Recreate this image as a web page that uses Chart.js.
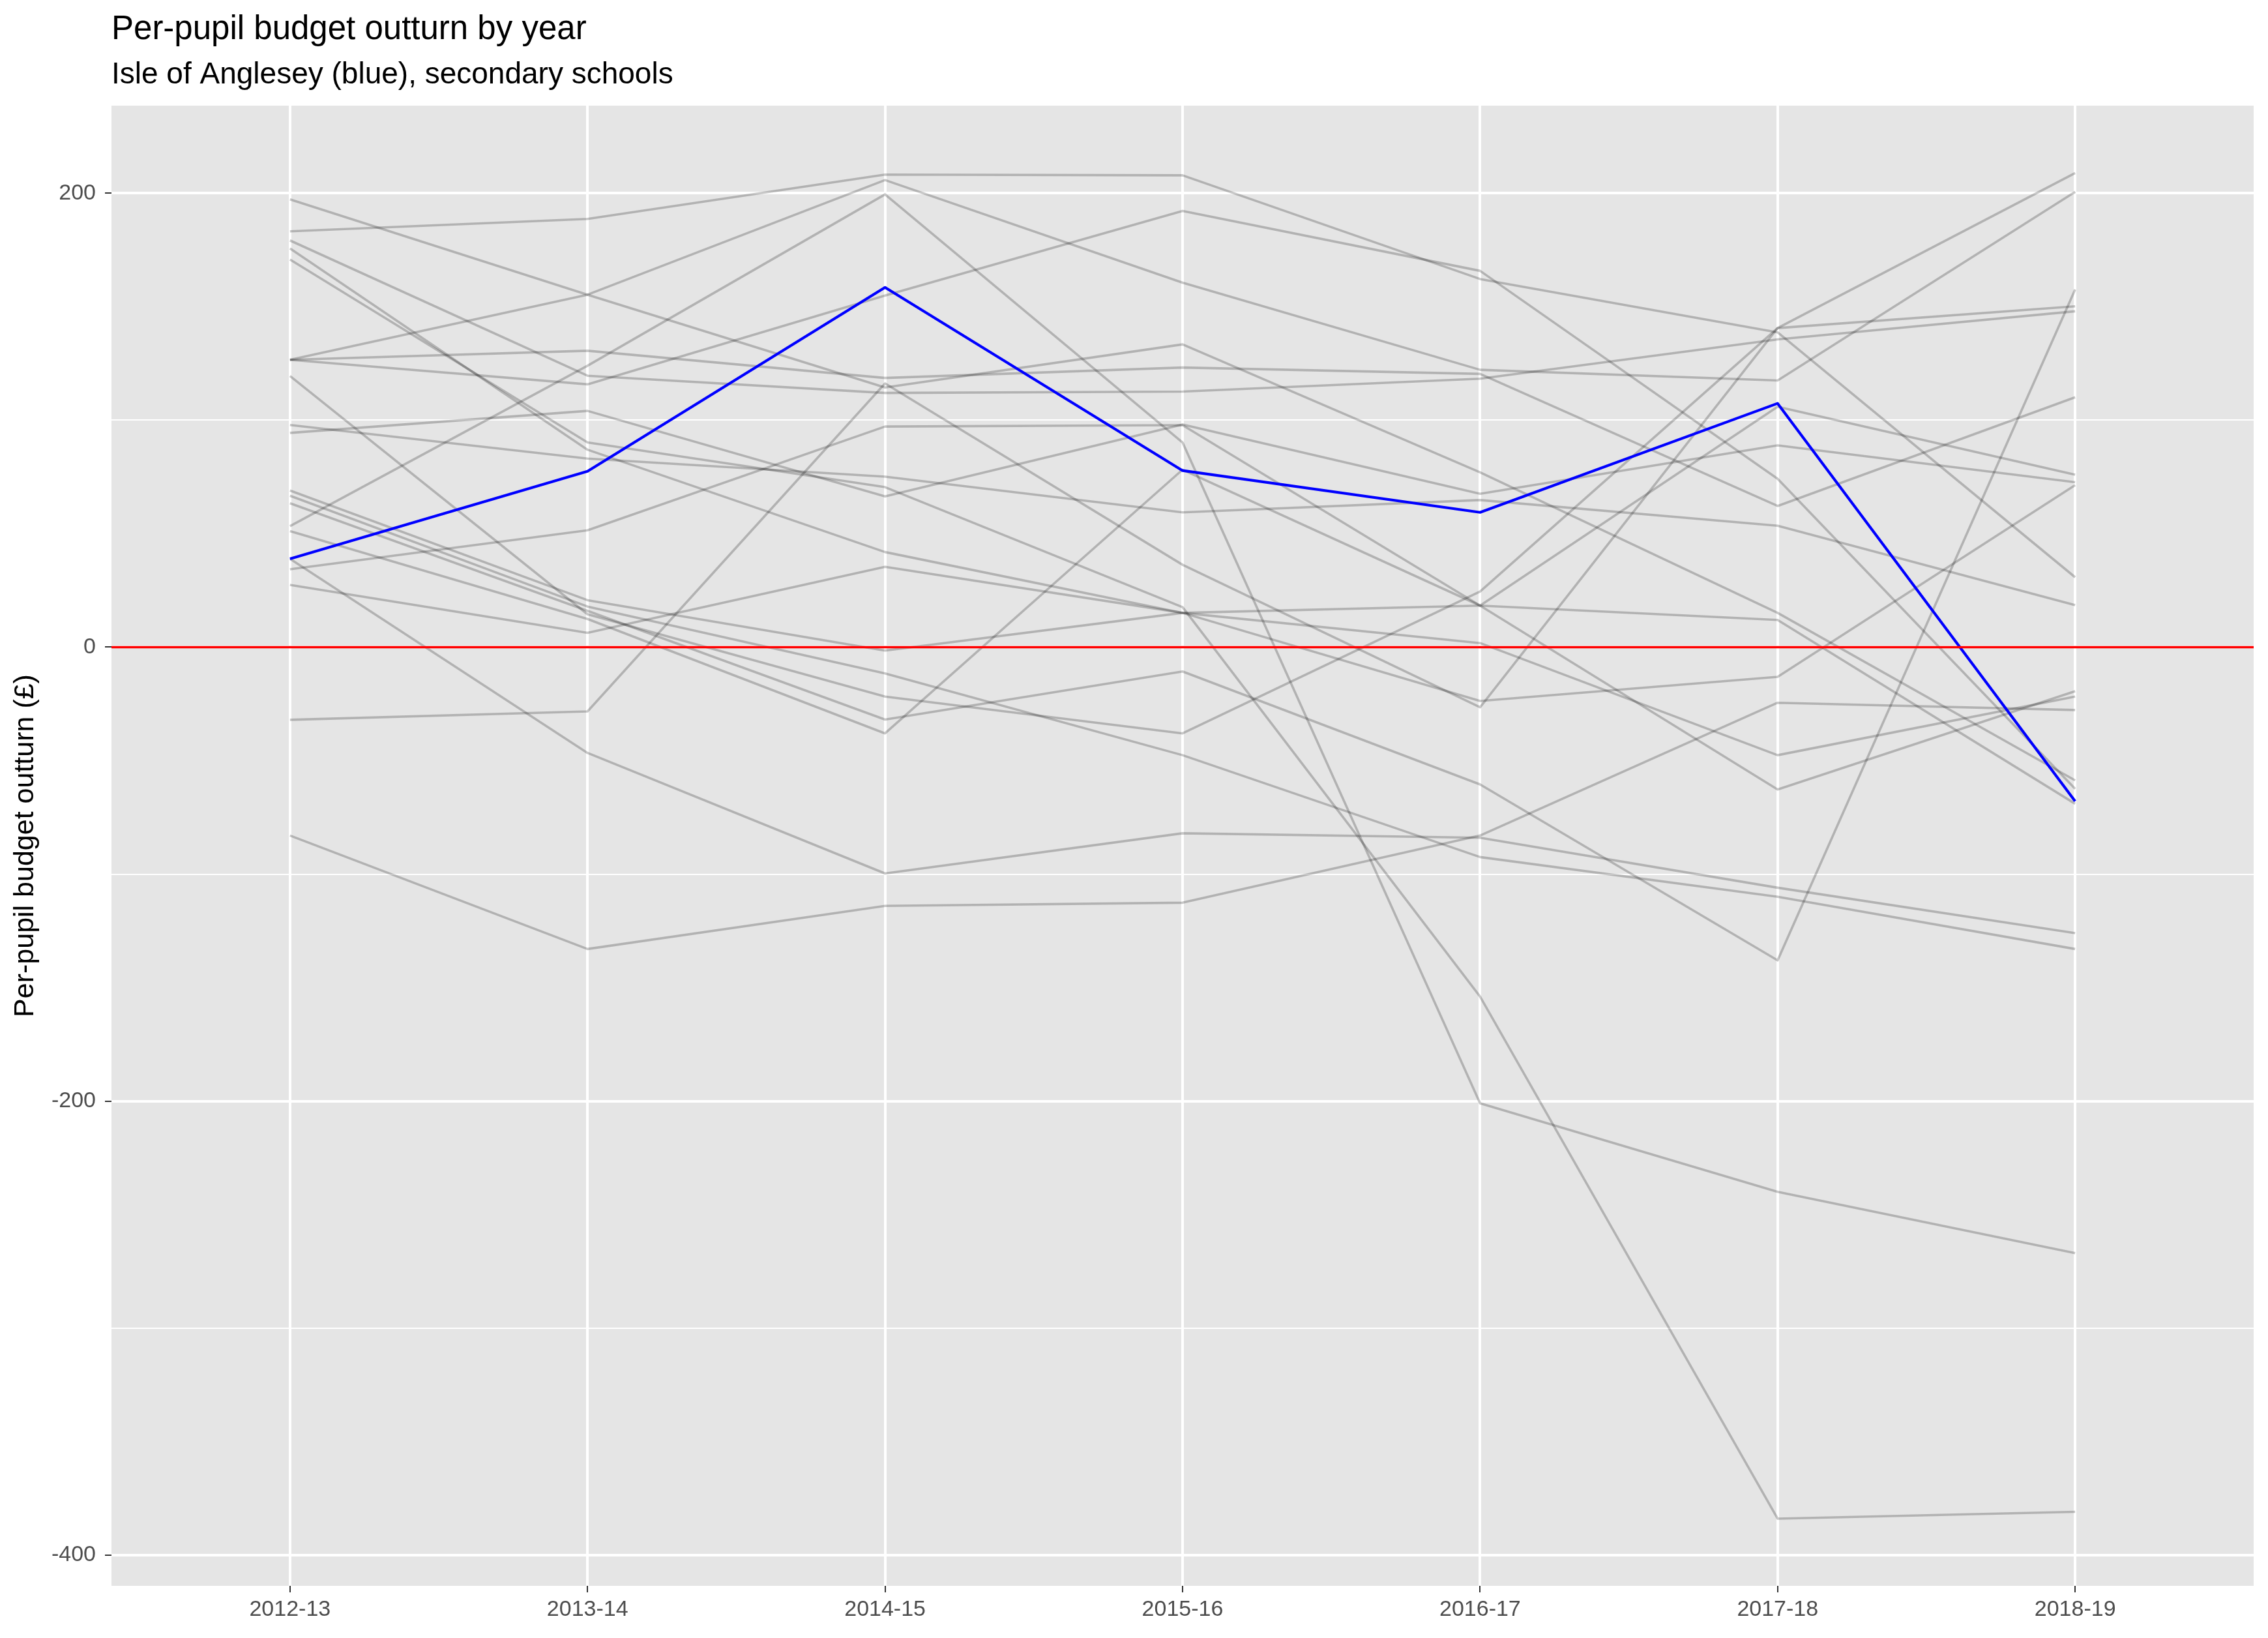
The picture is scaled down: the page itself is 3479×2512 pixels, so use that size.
<!DOCTYPE html>
<html>
<head>
<meta charset="utf-8">
<script src="https://cdn.jsdelivr.net/npm/chart.js@4.4.1/dist/chart.umd.min.js"></script>
<style>
  html, body { margin: 0; padding: 0; background: #ffffff; }
  canvas { display: block; }
</style>
</head>
<body>
<canvas id="c" width="3479" height="2512" style="width:3479px;height:2512px"></canvas>
<script>
// ---------------- DATA ----------------
const YEARS = ['2012-13', '2013-14', '2014-15', '2015-16', '2016-17', '2017-18', '2018-19'];

// Isle of Anglesey (highlighted)
const ANGLESEY = [38.9, 77.5, 158.5, 77.8, 59.4, 107.4, -67.9];

// Other local authorities (grey)
const LA_01 = [197.3, 155.3, 114.4, 133.4, 77.0, 15.1, -58.7];
const LA_02 = [183.2, 188.7, 208.2, 207.9, 162.2, 138.7, 30.8];
const LA_03 = [179.2, 119.6, 112.0, 112.6, 118.3, 135.6, 148.0];
const LA_04 = [175.7, 87.0, 41.9, 15.1, 1.8, -47.6, -21.8];
const LA_05 = [170.8, 90.2, 70.5, 17.6, -154.0, -384.0, -381.0];
const LA_06 = [126.6, 155.3, 205.8, 160.6, 122.2, 117.5, 200.6];
const LA_07 = [126.6, 130.6, 118.6, 123.2, 120.4, 62.2, 110.1];
const LA_08 = [126.6, 115.8, 154.9, 192.2, 165.8, 74.2, -62.4];
const LA_09 = [119.5, 14.5, -21.8, -38.0, 24.5, 140.6, 150.2];
const LA_10 = [97.9, 83.1, 75.1, 59.4, 64.8, 53.5, 18.5];
const LA_11 = [94.4, 104.1, 66.4, 98.1, 67.6, 88.9, 72.7];
const LA_12 = [69.0, 20.7, -1.5, 15.1, 18.3, 12.0, -69.0];
const LA_13 = [66.7, 17.9, -11.6, -47.6, -92.5, -110.0, -133.0];
const LA_14 = [63.4, 16.0, -31.9, -10.7, -60.5, -138.0, 157.6];
const LA_15 = [53.3, 124.0, 199.5, 90.2, -201.0, -240.0, -267.0];
const LA_16 = [51.1, 12.4, -38.0, 78.2, 18.3, -62.7, -19.4];
const LA_17 = [38.9, -46.6, -99.7, -82.0, -84.0, -106.0, -126.0];
const LA_18 = [34.3, 51.5, 97.2, 97.8, 18.3, 105.9, 76.0];
const LA_19 = [27.4, 6.3, 35.4, 15.1, -23.7, -13.1, 71.4];
const LA_20 = [-32.0, -28.3, 116.2, 36.3, -26.5, 140.6, 208.9];
const LA_21 = [-83.0, -133.0, -114.0, -112.6, -83.0, -24.5, -27.7];

const OTHERS = [LA_01, LA_02, LA_03, LA_04, LA_05, LA_06, LA_07, LA_08, LA_09, LA_10,
                LA_11, LA_12, LA_13, LA_14, LA_15, LA_16, LA_17, LA_18, LA_19, LA_20, LA_21];

const REFERENCE_VALUE = 0;
const Y_TICKS = [-400, -300, -200, -100, 0, 100, 200];
const Y_LABELLED = [-400, -200, 0, 200];

const TITLE = 'Per-pupil budget outturn by year';
const SUBTITLE = 'Isle of Anglesey (blue), secondary schools';
const Y_TITLE = 'Per-pupil budget outturn (£)';

// ---------------- CHART ----------------
const X_MIN = -0.6, X_MAX = YEARS.length - 1 + 0.6;
const Y_MIN = -413.6, Y_MAX = 238.6;
const FONT = '"Liberation Sans", Arial, Helvetica, sans-serif';

const toPoints = arr => arr.map((v, i) => ({ x: i, y: v }));

const datasets = [];
datasets.push({
  label: 'zero',
  data: [{ x: X_MIN, y: REFERENCE_VALUE }, { x: X_MAX, y: REFERENCE_VALUE }],
  borderColor: '#FF0000', borderWidth: 3.5, pointRadius: 0, order: 0
});
datasets.push({
  label: 'Isle of Anglesey',
  data: toPoints(ANGLESEY),
  borderColor: '#0000FF', borderWidth: 4.2, pointRadius: 0, order: 1,
  borderJoinStyle: 'round'
});
OTHERS.forEach((arr, k) => {
  datasets.push({
    label: 'LA ' + (k + 1),
    data: toPoints(arr),
    borderColor: 'rgba(0,0,0,0.22)', borderWidth: 3.6, pointRadius: 0, order: 2,
    borderJoinStyle: 'round'
  });
});

const panelBg = {
  id: 'panelBg',
  beforeDraw(chart) {
    const { ctx, chartArea: a } = chart;
    ctx.save();
    ctx.fillStyle = '#E5E5E5';
    ctx.fillRect(a.left, a.top, a.right - a.left, a.bottom - a.top);
    ctx.restore();
  }
};

const titles = {
  id: 'titles',
  afterDraw(chart) {
    const { ctx, chartArea: a } = chart;
    ctx.save();
    ctx.fillStyle = '#000000';
    ctx.textAlign = 'left';
    ctx.textBaseline = 'alphabetic';
    ctx.font = '51px ' + FONT;
    ctx.fillText(TITLE, a.left, 60);
    ctx.font = '46px ' + FONT;
    ctx.fillText(SUBTITLE, a.left, 128);
    ctx.restore();
  }
};

new Chart(document.getElementById('c'), {
  type: 'line',
  data: { datasets },
  plugins: [panelBg, titles],
  options: {
    responsive: false,
    devicePixelRatio: 1,
    animation: false,
    events: [],
    layout: { padding: { top: 162, right: 22, bottom: 0, left: 0 } },
    plugins: { legend: { display: false }, tooltip: { enabled: false }, title: { display: false } },
    elements: { line: { tension: 0, capBezierPoints: false } },
    scales: {
      x: {
        type: 'linear',
        min: X_MIN, max: X_MAX,
        afterBuildTicks: s => { s.ticks = YEARS.map((_, i) => ({ value: i })); },
        afterFit: s => { s.height = 80; },
        border: { display: false },
        grid: { color: '#FFFFFF', lineWidth: 4, drawTicks: true, tickLength: 10, tickColor: '#333333', tickWidth: 2 },
        ticks: {
          callback: v => YEARS[v],
          autoSkip: false, maxRotation: 0, minRotation: 0,
          color: '#4D4D4D', padding: 6,
          font: { family: FONT, size: 34 }
        }
      },
      y: {
        type: 'linear',
        min: Y_MIN, max: Y_MAX,
        afterBuildTicks: s => { s.ticks = Y_TICKS.map(v => ({ value: v })); },
        afterFit: s => { s.width = 171; },
        border: { display: false },
        grid: {
          color: '#FFFFFF',
          lineWidth: c => (Y_LABELLED.includes(c.tick && c.tick.value) ? 4 : 2),
          drawTicks: true, tickLength: 10,
          tickColor: c => (Y_LABELLED.includes(c.tick && c.tick.value) ? '#333333' : 'rgba(0,0,0,0)'),
          tickWidth: 2
        },
        ticks: {
          callback: v => (Y_LABELLED.includes(v) ? String(v) : ''),
          color: '#4D4D4D', padding: 14,
          font: { family: FONT, size: 34 }
        },
        title: {
          display: true, text: Y_TITLE, color: '#000000',
          font: { family: FONT, size: 43 },
          padding: { top: 13, bottom: 0 }
        }
      }
    }
  }
});
</script>
</body>
</html>
